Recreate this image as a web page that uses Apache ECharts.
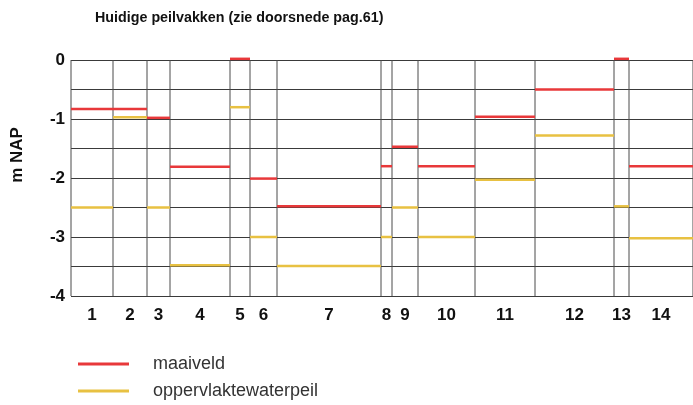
<!DOCTYPE html>
<html>
<head>
<meta charset="utf-8">
<script src="https://cdn.jsdelivr.net/npm/echarts@6/dist/echarts.min.js"></script>
<style>
  html, body { margin: 0; padding: 0; background: #fff; }
  #chart { width: 693px; height: 405px; }
</style>
</head>
<body>
<div id="chart"></div>
<script>
// Peilvak boundaries along the section (horizontal distance units)
const boundaries = [0, 42, 76, 99, 159, 179, 206, 310, 321, 347, 404, 464, 543, 558, 622];
// Peilvak numbers
const peilvakken = ['1', '2', '3', '4', '5', '6', '7', '8', '9', '10', '11', '12', '13', '14'];
// Ground level per peilvak (m NAP)
const maaiveld = [-0.83, -0.83, -0.98, -1.81, 0.02, -2.01, -2.48, -1.80, -1.47, -1.80, -0.96, -0.50, 0.02, -1.80];
// Surface water level per peilvak (m NAP)
const waterpeil = [-2.50, -0.97, -2.50, -3.48, -0.80, -3.00, -3.49, -3.00, -2.50, -3.00, -2.03, -1.28, -2.48, -3.02];
// Value-axis ticks
const yTicks = [0, -1, -2, -3, -4];

const RED = '#e8383a';
const YELLOW = '#e8c142';
const FONT = 'Liberation Sans, Arial, Helvetica, sans-serif';

const centers = peilvakken.map((_, i) => (boundaries[i] + boundaries[i + 1]) / 2);

function levelData(values) {
  return values.map((v, i) => [boundaries[i], boundaries[i + 1], v]);
}

function levelRenderer(color) {
  return function (params, api) {
    const a = api.coord([api.value(0), api.value(2)]);
    const b = api.coord([api.value(1), api.value(2)]);
    return {
      type: 'line',
      shape: { x1: a[0], y1: a[1], x2: b[0], y2: b[1] },
      style: { stroke: color, lineWidth: 2.5 }
    };
  };
}

const chart = echarts.init(document.getElementById('chart'), null, { renderer: 'canvas' });

chart.setOption({
  animation: false,
  backgroundColor: '#fff',
  title: {
    text: 'Huidige peilvakken (zie doorsnede pag.61)',
    left: 90,
    top: 6,
    textStyle: { fontFamily: FONT, fontSize: 14.3, fontWeight: 'bold', color: '#111' }
  },
  legend: {
    orient: 'vertical',
    left: 78,
    top: 355,
    padding: 0,
    itemWidth: 51,
    itemHeight: 3,
    itemGap: 9,
    data: [
      { name: 'maaiveld', icon: 'rect' },
      { name: 'oppervlaktewaterpeil', icon: 'rect' }
    ],
    textStyle: {
      fontFamily: FONT,
      fontSize: 18,
      color: '#333',
      padding: [0, 0, 0, 19]
    }
  },
  grid: { left: 71, right: 0, top: 60, bottom: 109 },
  xAxis: {
    type: 'value',
    min: boundaries[0],
    max: boundaries[boundaries.length - 1],
    axisLine: { show: false },
    axisTick: { show: false },
    splitLine: { show: false },
    axisLabel: {
      customValues: centers,
      margin: 11,
      fontFamily: FONT,
      fontSize: 17,
      fontWeight: 'bold',
      color: '#111',
      formatter: function (v) {
        const i = centers.findIndex(c => Math.abs(c - v) < 1e-6);
        return i >= 0 ? peilvakken[i] : '';
      }
    }
  },
  yAxis: {
    type: 'value',
    min: -4,
    max: 0,
    interval: 0.5,
    name: 'm NAP',
    nameLocation: 'middle',
    nameGap: 45,
    nameTextStyle: {
      fontFamily: FONT, fontSize: 17, fontWeight: 'bold', color: '#111',
      padding: [0, 0, 0, 46]
    },
    axisLine: { show: false },
    axisTick: { show: false },
    axisLabel: {
      margin: 6,
      fontFamily: FONT,
      fontSize: 17,
      fontWeight: 'bold',
      color: '#111',
      formatter: function (v) {
        return yTicks.indexOf(v) >= 0 ? String(v) : '';
      }
    },
    splitLine: { show: true, lineStyle: { color: '#3a3a3a', width: 1 } }
  },
  series: [
    {
      name: 'grenzen',
      type: 'custom',
      silent: true,
      z: 1,
      data: boundaries.map(b => [b]),
      encode: { x: 0 },
      renderItem: function (params, api) {
        const top = api.coord([api.value(0), 0]);
        const bottom = api.coord([api.value(0), -4]);
        return {
          type: 'line',
          shape: { x1: top[0], y1: top[1], x2: bottom[0], y2: bottom[1] },
          style: { stroke: '#4a4a4a', lineWidth: 1 }
        };
      }
    },
    {
      name: 'oppervlaktewaterpeil',
      type: 'custom',
      z: 3,
      itemStyle: { color: YELLOW },
      data: levelData(waterpeil),
      encode: { x: [0, 1], y: 2 },
      renderItem: levelRenderer(YELLOW)
    },
    {
      name: 'maaiveld',
      type: 'custom',
      z: 4,
      itemStyle: { color: RED },
      data: levelData(maaiveld),
      encode: { x: [0, 1], y: 2 },
      renderItem: levelRenderer(RED)
    }
  ]
});
</script>
</body>
</html>
